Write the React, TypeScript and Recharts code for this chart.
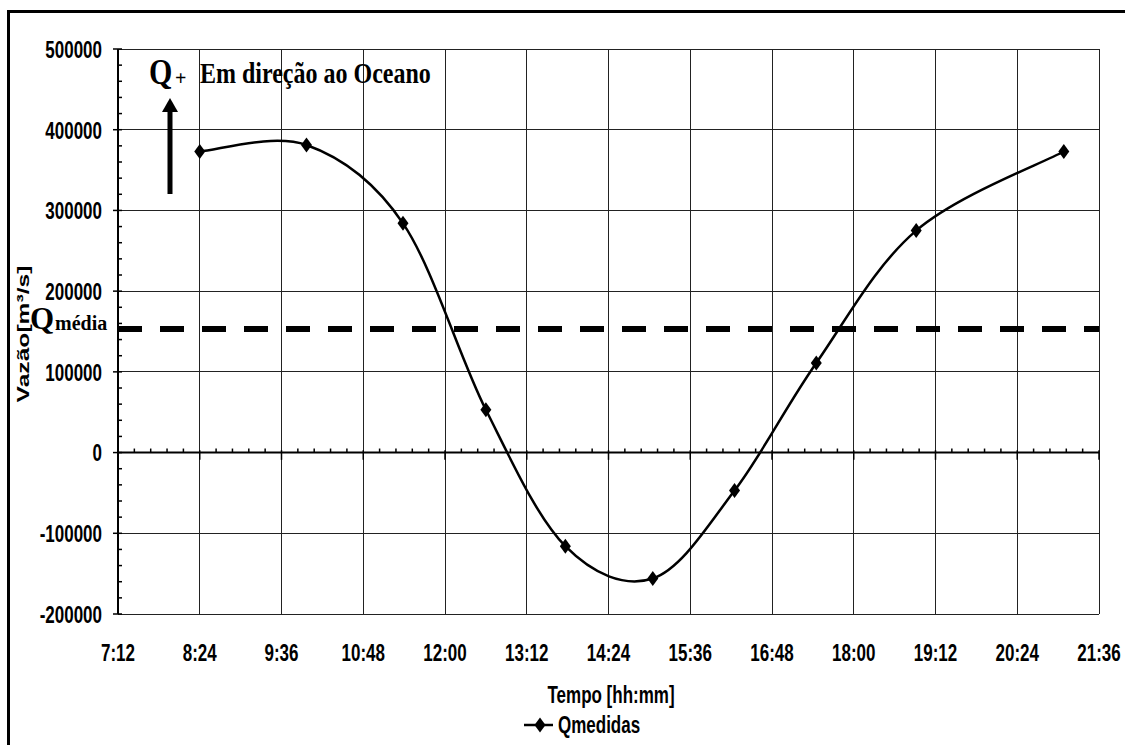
import React from "react";
import { LineChart, Line, XAxis, YAxis, CartesianGrid, ReferenceLine, Legend } from "recharts";

// tick labels
const xTickLabels = ["7:12", "8:24", "9:36", "10:48", "12:00", "13:12", "14:24", "15:36", "16:48", "18:00", "19:12", "20:24", "21:36"];
const yTickValues = [-200000, -100000, 0, 100000, 200000, 300000, 400000, 500000];

// measured discharge
const sampleTimes = ["8:24", "9:58", "11:23", "12:36", "13:46", "15:03", "16:15", "17:27", "18:55", "21:05"];
const qMedidas = [373000, 381000, 284000, 53000, -116000, -156000, -47000, 111000, 275000, 373000];
const qMedia = 153000;

const toMin = (s: string) => {
  const [h, m] = s.split(":").map(Number);
  return h * 60 + m;
};
const fmtTime = (v: number) => `${Math.floor(v / 60)}:${String(Math.round(v % 60)).padStart(2, "0")}`;

const data = sampleTimes.map((t, i) => ({ t: toMin(t), q: qMedidas[i] }));
const xTicks = xTickLabels.map(toMin);
const xMin = xTicks[0];
const xMax = xTicks[xTicks.length - 1];

// y ticks every 20000 (minor), labels only on the 100000 ones
const yTicksAll: number[] = [];
for (let v = yTickValues[0]; v <= yTickValues[yTickValues.length - 1]; v += 20000) yTicksAll.push(v);

// minor ticks on the zero axis, 5 per major step
const xMinor: number[] = [];
for (let i = 0; i < xTicks.length - 1; i++) {
  const step = (xTicks[i + 1] - xTicks[i]) / 5;
  for (let k = 1; k < 5; k++) xMinor.push(xTicks[i] + k * step);
}

const SANS = "'Liberation Sans', Arial, sans-serif";
const SERIF = "'Liberation Serif', 'Times New Roman', serif";
const STRETCH = 1.45;

const Txt = ({ x, y, anchor = "middle", size = 17, sy = STRETCH, rotate = 0, family = SANS, children }: any) => (
  <text
    transform={`translate(${x},${y}) rotate(${rotate}) scale(${rotate ? sy : 1},${rotate ? 1 : sy})`}
    textAnchor={anchor}
    dy="0.36em"
    fontFamily={family}
    fontWeight="bold"
    fontSize={size}
    fill="#000"
  >
    {children}
  </text>
);

// excel-like smoothed line (catmull-rom as bezier)
const excelSmooth = (context: any) => {
  let pts: number[][] = [];
  return {
    areaStart() {},
    areaEnd() {},
    lineStart() {
      pts = [];
    },
    point(x: number, y: number) {
      pts.push([x, y]);
    },
    lineEnd() {
      if (!pts.length) return;
      context.moveTo(pts[0][0], pts[0][1]);
      for (let i = 0; i < pts.length - 1; i++) {
        const p0 = pts[Math.max(i - 1, 0)];
        const p1 = pts[i];
        const p2 = pts[i + 1];
        const p3 = pts[Math.min(i + 2, pts.length - 1)];
        context.bezierCurveTo(
          p1[0] + (p2[0] - p0[0]) / 6,
          p1[1] + (p2[1] - p0[1]) / 6,
          p2[0] - (p3[0] - p1[0]) / 6,
          p2[1] - (p3[1] - p1[1]) / 6,
          p2[0],
          p2[1]
        );
      }
    },
  };
};

const diamond = (cx: number, cy: number, w = 5.5, h = 7.5) =>
  `M${cx},${cy - h}L${cx + w},${cy}L${cx},${cy + h}L${cx - w},${cy}Z`;

const renderDot = (p: any) => <path key={`dot-${p.index}`} d={diamond(p.cx, p.cy)} fill="#000" />;

const YTick = (props: any) => {
  const { x, y, payload } = props;
  const v = payload.value;
  if (v % 100000 !== 0) {
    return <line x1={x} x2={x + 4} y1={y} y2={y} stroke="#000" strokeWidth={1.5} />;
  }
  return (
    <g>
      <line x1={x - 5} x2={x + 4} y1={y} y2={y} stroke="#000" strokeWidth={1.5} />
      <Txt x={x - 16} y={y} anchor="end">
        {v}
      </Txt>
    </g>
  );
};

const XTick = (props: any) => {
  const { x, y, payload } = props;
  return (
    <Txt x={x} y={y + 38.5}>
      {fmtTime(payload.value)}
    </Txt>
  );
};

const LegendContent = () => (
  <svg width={130} height={26}>
    <line x1={4} x2={33} y1={13} y2={13} stroke="#000" strokeWidth={2.5} />
    <path d={diamond(20, 13)} fill="#000" />
    <Txt x={38} y={12} anchor="start">
      Qmedidas
    </Txt>
  </svg>
);

export default function App() {
  return (
    <div style={{ position: "absolute", left: 0, top: 0, width: 1125, height: 745, background: "#fff", overflow: "hidden" }}>
      <LineChart width={1125} height={745} data={data} margin={{ top: 49, right: 26, left: 18, bottom: 91 }}>
        <CartesianGrid
          horizontalValues={yTickValues}
          verticalValues={xTicks}
          stroke="#222"
          strokeWidth={1}
          shapeRendering="crispEdges"
        />
        <XAxis
          dataKey="t"
          type="number"
          domain={[xMin, xMax]}
          ticks={xTicks}
          interval={0}
          axisLine={false}
          tickLine={false}
          tickSize={0}
          tickMargin={0}
          height={40}
          tick={<XTick />}
        />
        <YAxis
          type="number"
          domain={[yTickValues[0], yTickValues[yTickValues.length - 1]]}
          ticks={yTicksAll}
          interval={0}
          width={100}
          tickLine={false}
          tickSize={0}
          tickMargin={0}
          axisLine={{ stroke: "#000", strokeWidth: 2 }}
          tick={<YTick />}
        />
        <ReferenceLine y={0} stroke="#000" strokeWidth={2} />
        {xTicks.map((t) => (
          <ReferenceLine key={`mj-${t}`} segment={[{ x: t, y: -9000 }, { x: t, y: 3000 }]} stroke="#000" strokeWidth={1.5} />
        ))}
        {xMinor.map((t) => (
          <ReferenceLine key={`mn-${t}`} segment={[{ x: t, y: 0 }, { x: t, y: 5000 }]} stroke="#000" strokeWidth={1.5} />
        ))}
        <ReferenceLine y={qMedia} stroke="#000" strokeWidth={6} strokeDasharray="24 18" />
        <Line
          dataKey="q"
          name="Qmedidas"
          type={excelSmooth as any}
          stroke="#000"
          strokeWidth={2.5}
          dot={renderDot}
          activeDot={false}
          isAnimationActive={false}
        />
        <Legend
          layout="horizontal"
          verticalAlign="middle"
          align="center"
          wrapperStyle={{ top: 712, left: 520, width: 130, height: 26 }}
          content={<LegendContent />}
        />
      </LineChart>

      <svg width={1125} height={745} style={{ position: "absolute", left: 0, top: 0, pointerEvents: "none" }}>
        {/* frame */}
        <rect x={7} y={10} width={1125} height={3} fill="#000" />
        <rect x={7} y={10} width={3} height={745} fill="#000" />

        <Txt x={23} y={334} rotate={-90}>
          Vazão[m³/s]
        </Txt>
        <Txt x={611} y={694}>
          Tempo [hh:mm]
        </Txt>

        {/* Q+ arrow annotation */}
        <text x={149} y={84} fontFamily={SERIF} fontWeight="bold" fontSize={30} transform="translate(0,-16.8) scale(1,1.2)">
          Q
        </text>
        <text x={175} y={85} fontFamily={SERIF} fontWeight="bold" fontSize={20}>
          +
        </text>
        <text x={200} y={83} fontFamily={SERIF} fontWeight="bold" fontSize={24} transform="translate(0,-20.75) scale(1,1.25)">
          Em direção ao Oceano
        </text>
        <rect x={167.5} y={110} width={5} height={84} fill="#000" />
        <path d="M162,112L178,112L170,98Z" fill="#000" />

        {/* Qmedia label */}
        <text x={30} y={329} fontFamily={SERIF} fontWeight="bold" fontSize={31}>
          Q
        </text>
        <text x={55} y={330} fontFamily={SERIF} fontWeight="bold" fontSize={20}>
          média
        </text>
      </svg>
    </div>
  );
}
